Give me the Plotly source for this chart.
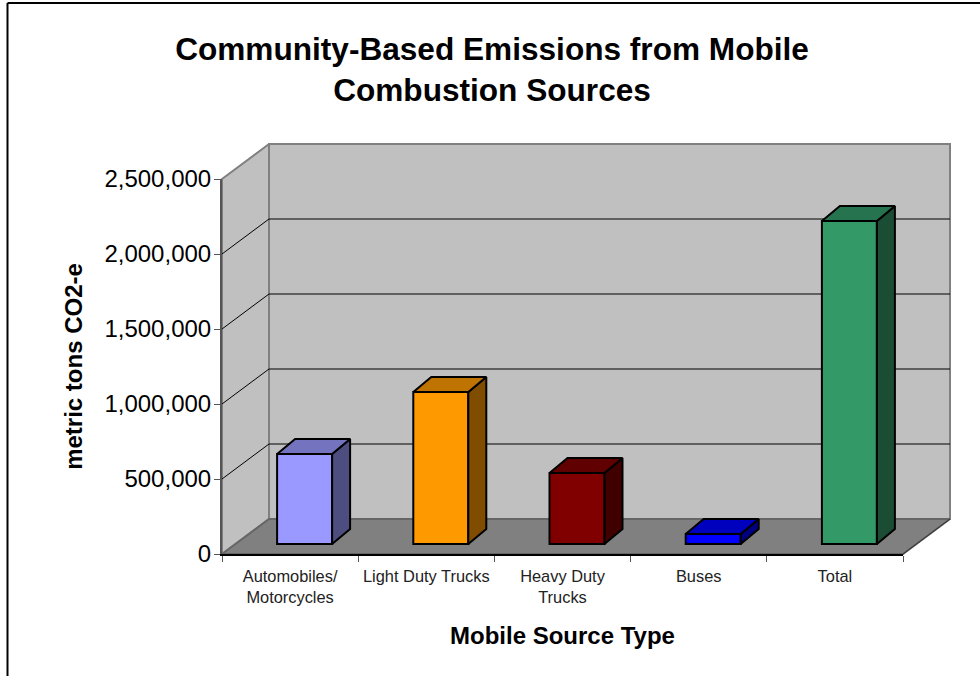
import plotly.graph_objects as go

categories = ["Automobiles/<br>Motorcycles", "Light Duty Trucks", "Heavy Duty<br>Trucks", "Buses", "Total"]
values = [600000, 1013000, 473000, 67000, 2153000]
y_ticks = [0, 500000, 1000000, 1500000, 2000000, 2500000]
front_colors = ["#9999FF", "#FF9900", "#800000", "#0000FF", "#339966"]
top_colors = ["#7373BF", "#BF7300", "#600000", "#0000BF", "#267350"]
side_colors = ["#4D4D80", "#804D00", "#400000", "#000080", "#1A4D33"]

YMAX = 2500000
PX_X = 136.2            # pixels per category
PX_Y = 375 / YMAX       # pixels per unit
WALL_DX = 47 / PX_X
WALL_DY = 35 / PX_Y
BAR_W = 55 / PX_X
BAR_SHIFT = 14.5 / PX_X
BAR_DX = 18 / PX_X
BAR_DY = 15 / PX_Y
BAR_BASE = 10 / PX_Y
X0, X1 = -0.5, 4.5
PAD = 4
W_TOTAL = 980 - 218 - 26
H_TOTAL = 676 - 140 - 118

fig = go.Figure()


def poly(xs, ys, fill, line="#000000", width=2, ax=("x2", "y2")):
    fig.add_trace(go.Scatter(
        x=xs + xs[:1], y=ys + ys[:1], mode="lines", fill="toself", fillcolor=fill,
        line=dict(color=line, width=width), hoverinfo="skip", showlegend=False,
        xaxis=ax[0], yaxis=ax[1],
    ))


def seg(xs, ys, color, width=1):
    fig.add_trace(go.Scatter(
        x=xs, y=ys, mode="lines", line=dict(color=color, width=width),
        hoverinfo="skip", showlegend=False, xaxis="x", yaxis="y",
    ))


WALLS = ("x", "y")
# walls and floor (hidden, wider axes drawn first)
poly([X0 + WALL_DX, X1 + WALL_DX, X1 + WALL_DX, X0 + WALL_DX],
     [WALL_DY, WALL_DY, YMAX + WALL_DY, YMAX + WALL_DY], "#C0C0C0", "#808080", 2, WALLS)
poly([X0, X0 + WALL_DX, X0 + WALL_DX, X0],
     [0, WALL_DY, YMAX + WALL_DY, YMAX], "#C0C0C0", "#808080", 2, WALLS)
poly([X0, X0 + WALL_DX, X1 + WALL_DX, X1],
     [0, WALL_DY, WALL_DY, 0], "#808080", "#666666", 2, WALLS)
seg([X1, X1 + WALL_DX], [0, WALL_DY], "#333333", 1)

# gridlines
for t in y_ticks[1:-1]:
    seg([X0, X0 + WALL_DX, X1 + WALL_DX], [t, t + WALL_DY, t + WALL_DY], "#000000", 1)

# bars: front faces on the real value axes
fig.add_trace(go.Bar(
    x=[i + BAR_SHIFT for i in range(len(values))], y=values, base=BAR_BASE, width=BAR_W,
    marker=dict(color=front_colors, line=dict(color="#000000", width=2)),
    showlegend=False, hoverinfo="skip", xaxis="x2", yaxis="y2",
))

# bars: side and top faces
for i, v in enumerate(values):
    l = i - BAR_W / 2 + BAR_SHIFT
    r = i + BAR_W / 2 + BAR_SHIFT
    top = BAR_BASE + v
    poly([r, r + BAR_DX, r + BAR_DX, r],
         [BAR_BASE, BAR_BASE + BAR_DY, top + BAR_DY, top], side_colors[i])
    poly([l, r, r + BAR_DX, l + BAR_DX],
         [top, top, top + BAR_DY, top + BAR_DY], top_colors[i])

fig.update_layout(
    width=980, height=676, autosize=False,
    margin=dict(l=218, r=26, t=140, b=118, pad=0),
    paper_bgcolor="#FFFFFF", plot_bgcolor="rgba(0,0,0,0)",
    font=dict(family="Liberation Sans, Arial, sans-serif", color="#000000"),
    title=dict(
        text="<b>Community-Based Emissions from Mobile<br>Combustion Sources</b>",
        x=492 / 980, xanchor="center", y=1 - 60 / 676, yanchor="top",
        font=dict(size=31.6, color="#000000"),
    ),
    xaxis=dict(
        domain=[0, 1], anchor="y", visible=False,
        range=[X0 - PAD / PX_X, X1 + WALL_DX + PAD / PX_X],
    ),
    yaxis=dict(
        domain=[0, 1], anchor="x", visible=False,
        range=[-PAD / PX_Y, YMAX + WALL_DY + PAD / PX_Y],
    ),
    xaxis2=dict(
        domain=[PAD / W_TOTAL, (PAD + 681) / W_TOTAL], anchor="y2",
        range=[X0, X1], tickmode="array", tickvals=list(range(5)), ticktext=categories,
        ticks="", showgrid=False, zeroline=False, showline=True, linecolor="#000000", linewidth=2,
        tickfont=dict(size=16.4, color="#222222"), ticklabelstandoff=6,
        minor=dict(tickmode="array", tickvals=[X0 + k for k in range(6)], ticks="outside",
                   ticklen=6, tickcolor="#555555", tickwidth=1, showgrid=False),
        title=dict(text="<b>Mobile Source Type</b>", font=dict(size=24, color="#000000"), standoff=22),
    ),
    yaxis2=dict(
        domain=[PAD / H_TOTAL, (PAD + 375) / H_TOTAL], anchor="x2",
        range=[0, YMAX], tickmode="array", tickvals=y_ticks, tickformat=",d",
        ticks="outside", ticklen=6, tickcolor="#555555", tickwidth=1, ticklabelstandoff=-2,
        showgrid=False, zeroline=False, showline=True, linecolor="#555555", linewidth=2,
        tickfont=dict(size=24, color="#000000"),
        title=dict(text="<b>metric tons CO2-e</b>", font=dict(size=24, color="#000000"), standoff=15),
    ),
    shapes=[
        dict(type="line", xref="paper", yref="paper",
             x0=(7.5 - 218) / W_TOTAL, x1=(7.5 - 218) / W_TOTAL,
             y0=(558 - 3) / H_TOTAL, y1=(558 - 676) / H_TOTAL, line=dict(color="#000000", width=2), layer="below"),
        dict(type="line", xref="paper", yref="paper",
             x0=(7.5 - 218) / W_TOTAL, x1=(980 - 218) / W_TOTAL,
             y0=(558 - 3) / H_TOTAL, y1=(558 - 3) / H_TOTAL, line=dict(color="#000000", width=2), layer="below"),
    ],
)

fig.write_html("out.html", config={"displayModeBar": False},
               post_script="document.body.style.margin='0';")
